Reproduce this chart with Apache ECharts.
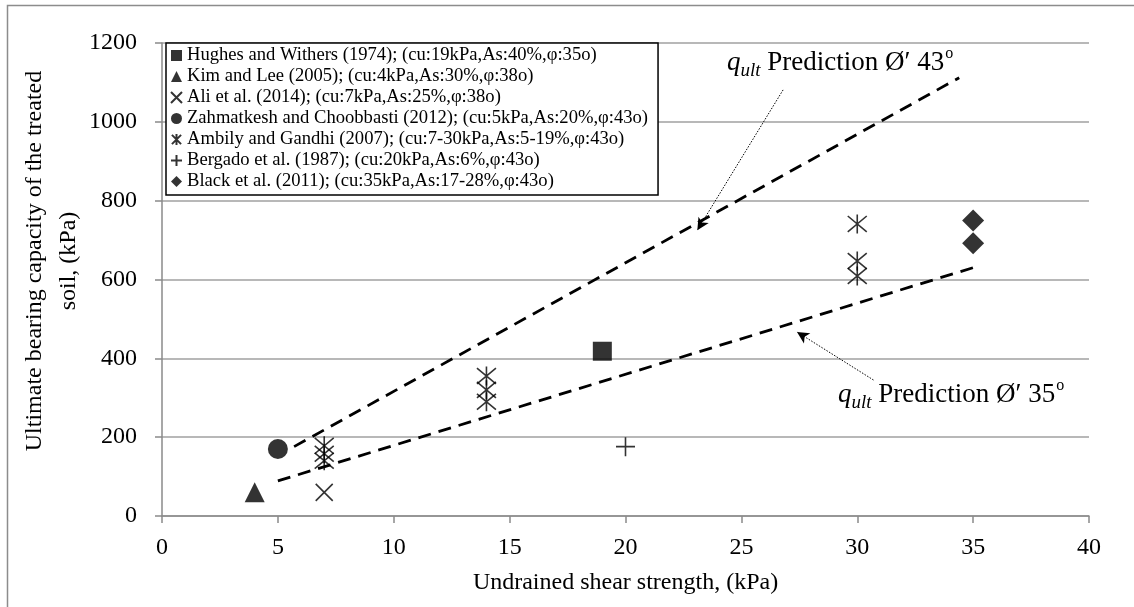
<!DOCTYPE html>
<html>
<head>
<meta charset="utf-8">
<script src="https://cdn.jsdelivr.net/npm/echarts@6/dist/echarts.min.js"></script>
<style>
html,body{margin:0;padding:0;background:#fff;}
#c{width:1134px;height:607px;}
</style>
</head>
<body>
<div id="c"></div>
<script>
// ---- data ----
const xTicks = {min: 0, max: 40, interval: 5};
const yTicks = {min: 0, max: 1200, interval: 200};
const names = [
  'Hughes and Withers (1974); (cu:19kPa,As:40%,φ:35o)',
  'Kim and Lee (2005); (cu:4kPa,As:30%,φ:38o)',
  'Ali et al. (2014); (cu:7kPa,As:25%,φ:38o)',
  'Zahmatkesh and Choobbasti (2012); (cu:5kPa,As:20%,φ:43o)',
  'Ambily and Gandhi (2007); (cu:7-30kPa,As:5-19%,φ:43o)',
  'Bergado et al. (1987); (cu:20kPa,As:6%,φ:43o)',
  'Black et al. (2011); (cu:35kPa,As:17-28%,φ:43o)'
];
const hughes = [[19, 418]];
const kim = [[4, 60]];
const ali = [[7, 60]];
const zahmatkesh = [[5, 170]];
const ambily = [[7, 178], [7, 158], [7, 140], [14, 355], [14, 320], [14, 290], [30, 741], [30, 647], [30, 609]];
const bergado = [[20, 176]];
const black = [[35, 750], [35, 692]];
const pred43 = [[5.7, 176], [34.4, 1112]];
const pred35 = [[5, 89], [35, 630]];
const arrow43 = [[26.8, 1081], [23.1, 725]];
const arrow35 = [[30.7, 345], [27.4, 467]];
const xTitle = 'Undrained shear strength, (kPa)';
const yTitle = 'Ultimate bearing capacity of the treated\nsoil, (kPa)';
const label43 = ['q', 'ult', ' Prediction Ø′ 43', 'o'];
const label35 = ['q', 'ult', ' Prediction Ø′ 35', 'o'];

const FONT = 'Liberation Serif, Times New Roman, serif';
const X_PATH = 'path://M0,0L10,10M10,0L0,10';
const STAR_PATH = 'path://M0,0L10,10M10,0L0,10M5,-1L5,11';
const PLUS_PATH = 'path://M5,0L5,10M0,5L10,5';

const chart = echarts.init(document.getElementById('c'), null, {renderer: 'canvas'});

function scatter(name, data, symbol, size, stroke) {
  return {
    name: name, type: 'scatter', data: data, symbol: symbol, symbolSize: size, z: 5,
    itemStyle: stroke ? {color: 'rgba(0,0,0,0)', borderColor: '#000', borderWidth: 1.6}
                      : {color: '#000', borderWidth: 0},
    emphasis: {disabled: true}
  };
}

// place text pieces one after another (q, subscript ult, main text, superscript o)
const measureCtx = document.createElement('canvas').getContext('2d');
function richLabel(parts, x0, yMid) {
  const fonts = ['italic 27px ' + FONT, 'italic 19px ' + FONT, '27px ' + FONT, '16px ' + FONT];
  const dys = [0, 8, 0, -9];
  let x = x0;
  return parts.map(function (t, i) {
    measureCtx.font = fonts[i];
    const el = {type: 'text', silent: true, x: x, y: yMid + dys[i],
      style: {text: t, font: fonts[i], fill: '#000', verticalAlign: 'middle'}};
    x += measureCtx.measureText(t).width + (i === 2 ? 1 : 0);
    return el;
  });
}

const option = {
  animation: false,
  backgroundColor: '#fff',
  textStyle: {fontFamily: FONT, color: '#000'},
  grid: {left: 162, right: 45, top: 43, bottom: 91},
  legend: {
    orient: 'vertical', left: 166, top: 43,
    data: names,
    itemWidth: 11, itemHeight: 11, itemGap: 2,
    padding: [3, 10, 4, 4],
    borderColor: '#000', borderWidth: 1.5, backgroundColor: '#fff',
    textStyle: {fontFamily: FONT, fontSize: 18.6, color: '#000', lineHeight: 19},
    selectedMode: false
  },
  xAxis: {
    type: 'value', min: xTicks.min, max: xTicks.max, interval: xTicks.interval,
    name: xTitle, nameLocation: 'middle', nameGap: 55,
    nameTextStyle: {fontFamily: FONT, fontSize: 24, color: '#000'},
    axisLine: {show: true, lineStyle: {color: '#8a8a8a', width: 1.5}},
    axisTick: {show: true, length: 7, lineStyle: {color: '#8a8a8a', width: 1.5}},
    axisLabel: {fontFamily: FONT, fontSize: 24, color: '#000', margin: 20},
    splitLine: {show: false}
  },
  yAxis: {
    type: 'value', min: yTicks.min, max: yTicks.max, interval: yTicks.interval,
    axisLine: {show: true, lineStyle: {color: '#8a8a8a', width: 1.5}},
    axisTick: {show: true, length: 7, lineStyle: {color: '#8a8a8a', width: 1.5}},
    axisLabel: {fontFamily: FONT, fontSize: 24, color: '#000', margin: 25,
      formatter: function (v) { return String(v); }},
    splitLine: {show: true, lineStyle: {color: '#a0a0a0', width: 1.5}}
  },
  series: [
    {
      name: 'pred43', type: 'line', data: pred43, symbol: 'none', z: 2,
      lineStyle: {color: '#000', width: 2.8, type: [13, 8]},
      markLine: {
        silent: true, symbol: ['none', 'arrow'], symbolSize: [9, 12],
        label: {show: false},
        lineStyle: {color: '#000', width: 1, type: [1.5, 1.5]},
        data: [[{coord: arrow43[0]}, {coord: arrow43[1]}]]
      }
    },
    {
      name: 'pred35', type: 'line', data: pred35, symbol: 'none', z: 2,
      lineStyle: {color: '#000', width: 2.8, type: [13, 8]},
      markLine: {
        silent: true, symbol: ['none', 'arrow'], symbolSize: [9, 12],
        label: {show: false},
        lineStyle: {color: '#000', width: 1, type: [1.5, 1.5]},
        data: [[{coord: arrow35[0]}, {coord: arrow35[1]}]]
      }
    },
    scatter(names[0], hughes, 'rect', 19, false),
    scatter(names[1], kim, 'triangle', 20, false),
    scatter(names[2], ali, X_PATH, 17, true),
    scatter(names[3], zahmatkesh, 'circle', 20, false),
    scatter(names[4], ambily, STAR_PATH, 19, true),
    scatter(names[5], bergado, PLUS_PATH, 19, true),
    scatter(names[6], black, 'diamond', 22, false)
  ],
  graphic: [
    {type: 'rect', silent: true, z: -10, shape: {x: 7.5, y: 5.5, width: 1200, height: 700},
     style: {fill: 'none', stroke: '#8c8c8c', lineWidth: 1.5}},
    {type: 'text', silent: true, x: 52, y: 261, rotation: Math.PI / 2,
     style: {text: yTitle, font: '24px ' + FONT, fill: '#000', align: 'center', verticalAlign: 'middle', lineHeight: 34}}
  ].concat(richLabel(label43, 727, 63), richLabel(label35, 838, 395))
};
chart.setOption(option);
</script>
</body>
</html>
